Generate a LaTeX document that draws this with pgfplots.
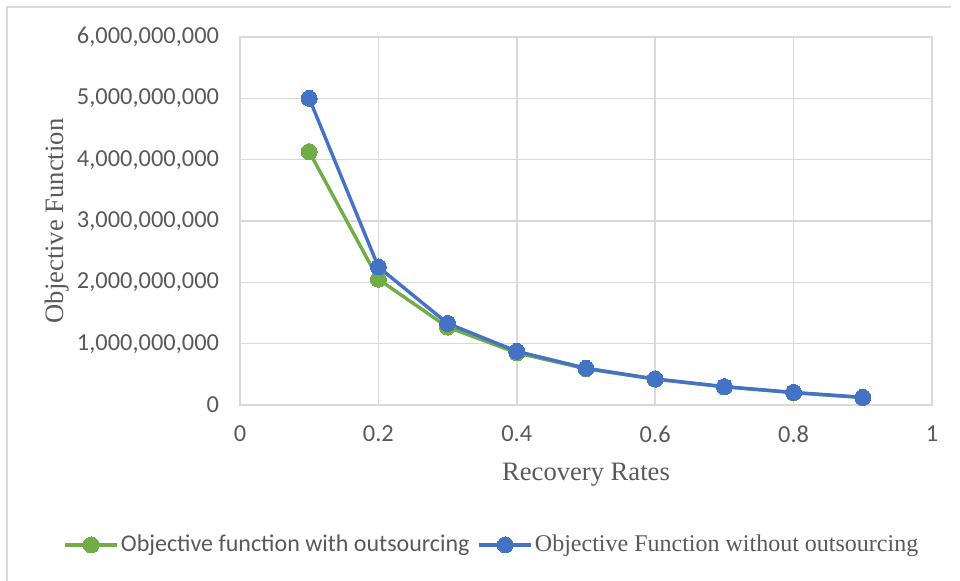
\documentclass[border=0pt]{standalone}
\usepackage{pgfplots}
\pgfplotsset{compat=1.18}
\usepackage{fontspec}
\setmainfont{Carlito}
\newfontfamily\tnr{Liberation Serif}
\definecolor{cgreen}{HTML}{70AD47}
\definecolor{cblue}{HTML}{4472C4}
\definecolor{cgrid}{HTML}{D9D9D9}
\definecolor{ctext}{HTML}{595959}
\begin{document}
\begin{tikzpicture}
\useasboundingbox (-120pt,-88pt) rectangle (360pt,202.5pt);
\draw[cgrid, line width=0.8pt] (-116.5pt,-95pt) -- (-116.5pt,199pt) -- (355.5pt,199pt);
\begin{axis}[
  at={(0,0)}, anchor=south west,
  scale only axis, width=346pt, height=184pt,
  xmin=0, xmax=1, ymin=0, ymax=6e9,
  xtick={0,0.2,0.4,0.6,0.8,1},
  xticklabels={0,0.2,0.4,0.6,0.8,1},
  ytick={0,1e9,2e9,3e9,4e9,5e9,6e9},
  yticklabels={0,{1,000,000,000},{2,000,000,000},{3,000,000,000},{4,000,000,000},{5,000,000,000},{6,000,000,000}},
  scaled y ticks=false,
  major tick length=0pt,
  grid=major,
  major grid style={cgrid, line width=0.8pt},
  axis line style={cgrid, line width=0.8pt},
  tick label style={font=\fontsize{12.2}{14}\selectfont, text=ctext},
  yticklabel style={xshift=-7pt},
  xticklabel style={yshift=-7pt},
  xlabel={Recovery Rates},
  ylabel={Objective Function},
  xlabel style={at={(rel axis cs:0.5,-0.19)}, anchor=center, font=\tnr\fontsize{13.3}{15}\selectfont, text=ctext},
  ylabel style={at={(rel axis cs:-0.2645,0.5)}, anchor=center, rotate=0, font=\tnr\fontsize{13.3}{15}\selectfont, text=ctext},
  legend style={at={(rel axis cs:0.364,-0.38)}, anchor=center, draw=none, fill=none,
    font=\fontsize{12}{14}\selectfont, text=ctext,
    /tikz/every even column/.append style={column sep=3pt},
    nodes={inner sep=1pt}},
  legend columns=2,
  legend image code/.code={\draw[mark repeat=2,mark phase=2] plot coordinates {(0pt,0pt)(13pt,0pt)(26pt,0pt)};},
]
\addplot[color=cgreen, line width=1.7pt, mark=*, mark size=4pt, mark options={fill=cgreen, draw=cgreen, line width=0pt}]
coordinates {(0.1,4.13e9)(0.2,2.05e9)(0.3,1.27e9)(0.4,0.85e9)(0.5,0.59e9)(0.6,0.42e9)(0.7,0.295e9)(0.8,0.20e9)(0.9,0.12e9)};
\addlegendentry{Objective function with outsourcing}
\addplot[color=cblue, line width=1.7pt, mark=*, mark size=4pt, mark options={fill=cblue, draw=cblue, line width=0pt}]
coordinates {(0.1,5.0e9)(0.2,2.25e9)(0.3,1.33e9)(0.4,0.875e9)(0.5,0.60e9)(0.6,0.425e9)(0.7,0.30e9)(0.8,0.205e9)(0.9,0.125e9)};
\addlegendentry{\tnr Objective Function without outsourcing}
\end{axis}
\end{tikzpicture}
\end{document}
